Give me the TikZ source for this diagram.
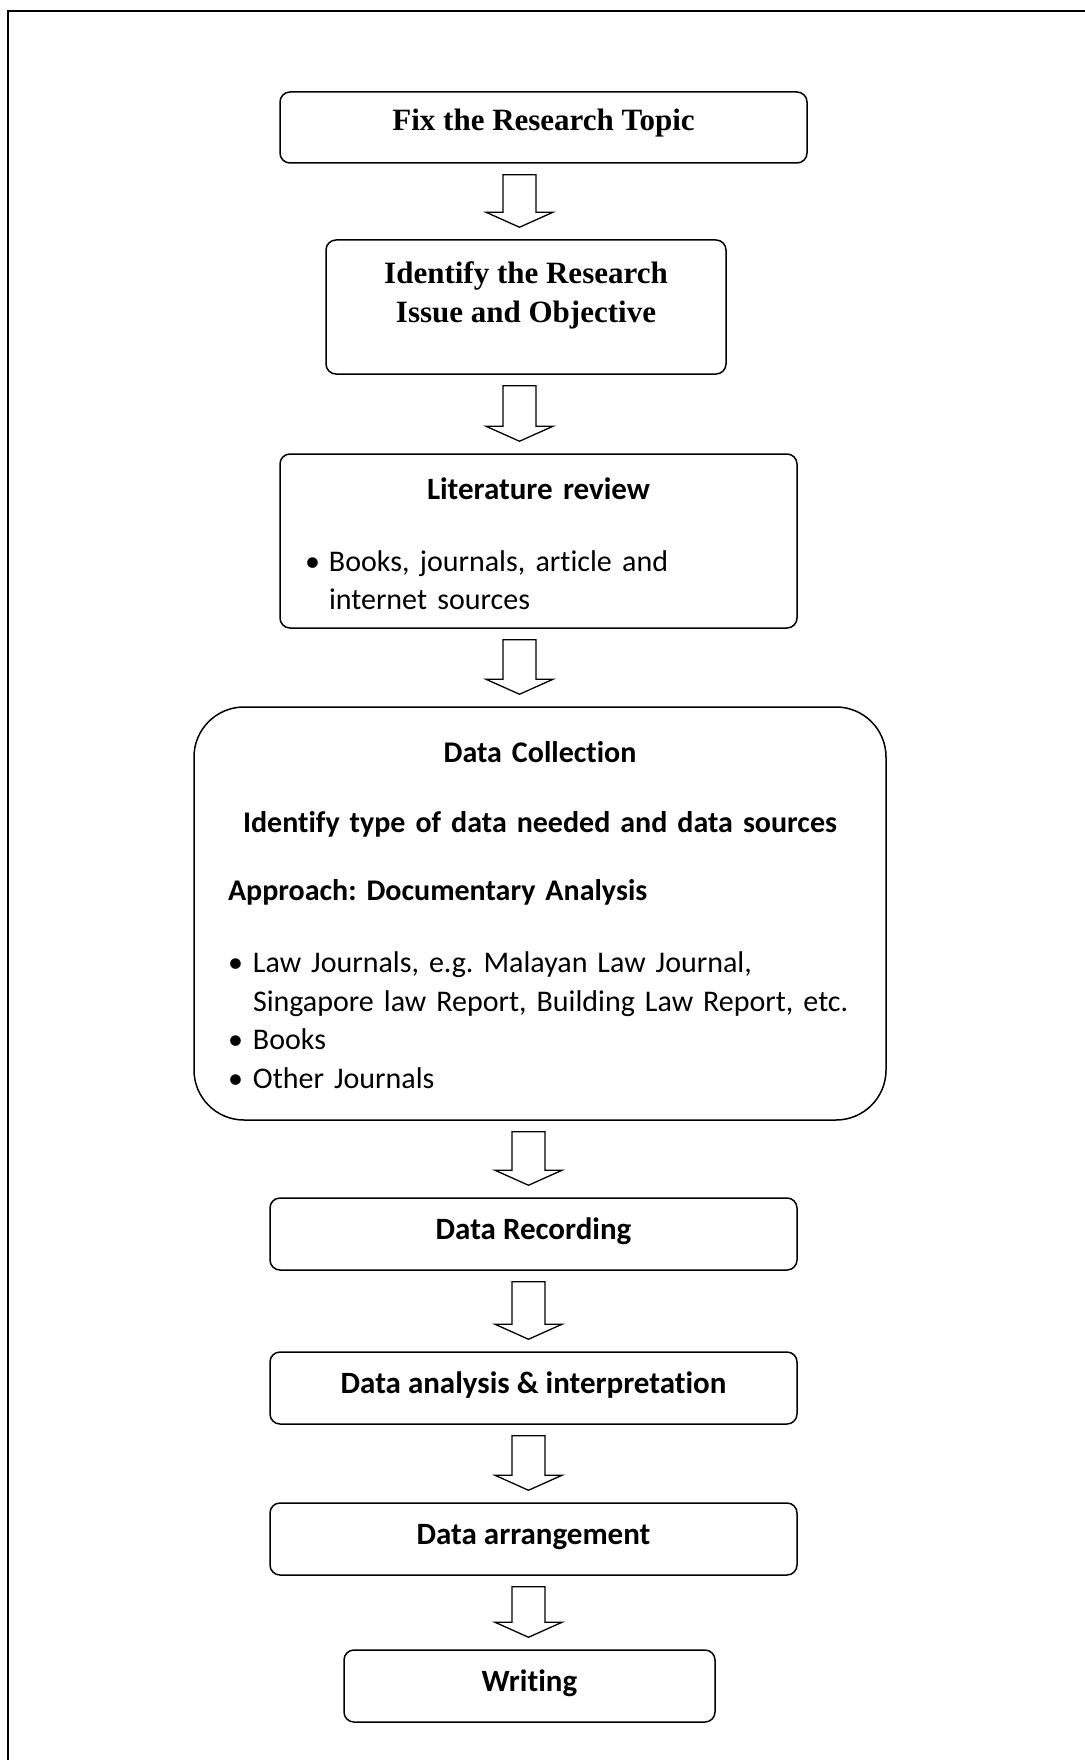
\documentclass[tikz,border=0pt]{standalone}
\usepackage{fontspec}
\setmainfont{Carlito}[Ligatures=NoCommon]
\newfontfamily\serifbold{Liberation Serif}[BoldFont={Liberation Serif Bold}]
\usetikzlibrary{calc}
\frenchspacing

\def \stagefont {\fontsize{31}{38.5}\selectfont}
\def \itemfont {\fontsize{30}{38.5}\selectfont}
\def \topicfont {\serifbold\bfseries\fontsize{31}{39}\selectfont}
\def \shafthalf {16.5}
\def \headhalf {33.5}
\def \headlen {15}
\def \gapabove {11}
\def \gapbelow {12}
\def \onestrut {\rule[-16pt]{0pt}{43pt}}
\newcommand{\bulletline}[2]{\par\itemfont\hangindent=#1pt\hangafter=1\noindent\strut\makebox[#1pt][l]{\textbullet}#2\par}
\newcommand{\deepstrut}[1]{\rule[-#1pt]{0pt}{#1pt}}

\tikzset{
stage/.style={draw, line width=1.5pt, rounded corners=10pt, minimum height=72pt, inner sep=0pt, font=\stagefont},
hollowarrow/.style={draw, line width=1.3pt, fill=white, line join=miter}
}

\begin{document}
\begin{tikzpicture}[x=1pt,y=-1pt]
\useasboundingbox (0,0) rectangle (1084,1760);
% Draw the outside frame
\draw[line width=2pt] (8,11) rectangle (1200,1900);

% Draw the stages
\node[stage, minimum width=527pt, minimum height=71pt, font=\topicfont] (topic) at (543.5,127.5) {\rule[-21pt]{0pt}{48pt}Fix the Research Topic};
\node[stage, minimum width=400pt, minimum height=134pt, font=\topicfont, align=center] (issue) at (526,307) {\strut Identify the Research\\\strut Issue and Objective\deepstrut{35}};
\node[stage, minimum width=517pt, minimum height=174pt, inner xsep=25pt, text width=467pt] (litreview) at (538.5,541)
{\centering\strut\textbf{Literature review}\par\vspace{33.5pt}
\raggedright\bulletline{24}{Books, journals, article and\newline internet sources}};
\node[stage, rounded corners=50pt, minimum width=692pt, minimum height=413pt, inner xsep=34pt, text width=624pt, font=\itemfont] (collection) at (540,913.5)
{\centering\rule{0pt}{36pt}\textbf{Data Collection}\par\vspace{31.5pt}
\centering\strut\textbf{Identify type of data needed and data sources}\par\vspace{29.5pt}
\raggedright\strut\textbf{Approach: Documentary Analysis}\par\vspace{33.5pt}
\bulletline{25}{Law Journals, e.g. Malayan Law Journal,\newline Singapore law Report, Building Law Report, etc.}
\bulletline{25}{Books}
\bulletline{25}{Other Journals}};
\node[stage, minimum width=527pt] (recording) at (533.5,1234) {\onestrut\textbf{Data Recording}};
\node[stage, minimum width=527pt] (analysis) at (533.5,1388) {\onestrut\textbf{Data analysis \& interpretation}};
\node[stage, minimum width=527pt] (arrangement) at (533.5,1539) {\onestrut\textbf{Data arrangement}};
\node[stage, minimum width=371pt] (writing) at (529.5,1686) {\onestrut\textbf{Writing}};

% Draw the hollow arrows between the stages
\foreach \from/\to/\ax in {topic/issue/519.5, issue/litreview/519.5, litreview/collection/519.5,
  collection/recording/528.5, recording/analysis/528.5, analysis/arrangement/528.5, arrangement/writing/528.5}
{
\draw[hollowarrow] ($(\ax,0 |- \from.south)+(-\shafthalf,\gapabove)$)
  -- ($(\ax,0 |- \from.south)+(\shafthalf,\gapabove)$)
  -- ($(\ax,0 |- \to.north)+(\shafthalf,-\headlen-\gapbelow)$)
  -- ($(\ax,0 |- \to.north)+(\headhalf,-\headlen-\gapbelow)$)
  -- ($(\ax,0 |- \to.north)+(0,-\gapbelow)$)
  -- ($(\ax,0 |- \to.north)+(-\headhalf,-\headlen-\gapbelow)$)
  -- ($(\ax,0 |- \to.north)+(-\shafthalf,-\headlen-\gapbelow)$)
  -- cycle;
}
\end{tikzpicture}
\end{document}
